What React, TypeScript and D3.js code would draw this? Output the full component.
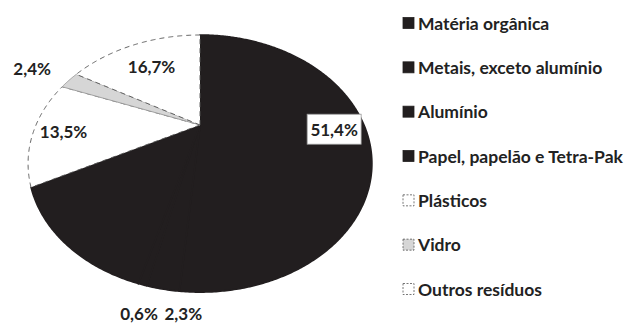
import React from "react";
import * as d3 from "d3";

const categories = [
  "Matéria orgânica",
  "Metais, exceto alumínio",
  "Alumínio",
  "Papel, papelão e Tetra-Pak",
  "Plásticos",
  "Vidro",
  "Outros resíduos",
];
const values = [51.4, 2.3, 0.6, 13.1, 13.5, 2.4, 16.7];
const valueLabels = ["51,4%", "2,3%", "0,6%", "", "13,5%", "2,4%", "16,7%"];

const W = 624;
const H = 323;
const DARK = "#221e1f";
const fills = [DARK, DARK, DARK, DARK, "#ffffff", "#d6d6d6", "#ffffff"];
const strokes = [DARK, DARK, DARK, DARK, "#555", "#999", "#555"];
const dashes = [null, null, null, null, "5,4", null, "5,4"];

// label placement: radius fraction + nudges (layout, not data)
const labelLayout = [
  { rf: 0.81, dx: 0, dy: 0, box: true },
  { rf: 1.1, dx: 26, dy: 0, box: false },
  { rf: 1.1, dx: 5, dy: 5, box: false },
  { rf: 0.7, dx: 0, dy: 0, box: false },
  { rf: 0.84, dx: 3, dy: 1, box: false },
  { rf: 1.33, dx: 0, dy: 1, box: false },
  { rf: 0.68, dx: -1, dy: 0, box: false },
];

// perspective projection of the pie plane
const cx = 200;
const cy = 125;
const A = 164;
const B = 117;
const K = -0.3;
function project(theta: number, r: number): [number, number] {
  const u = r * Math.sin(theta);
  const v = -r * Math.cos(theta);
  const den = 1 + K * v;
  return [cx + (A * u) / den, cy + (B * v) / den];
}

const data = categories.map((c, i) => ({ name: c, value: values[i], i }));
const pie = d3
  .pie<any>()
  .sort(null)
  .value((d: any) => d.value);
const arcs = pie(data);
const lineGen = d3.line<[number, number]>();

function slicePath(a: any): string {
  const step = Math.PI / 360;
  const n = Math.max(2, Math.ceil((a.endAngle - a.startAngle) / step));
  const pts: [number, number][] = [project(0, 0)];
  d3.range(n + 1).forEach((j) => {
    const t = a.startAngle + ((a.endAngle - a.startAngle) * j) / n;
    pts.push(project(t, 1));
  });
  return lineGen(pts) + "Z";
}

const font = "Lato, 'Open Sans', sans-serif";
const legendY = d3.scaleLinear().domain([0, categories.length - 1]).range([23, 289]);

export default function App() {
  return (
    <svg
      width={W}
      height={H}
      style={{ position: "absolute", left: 0, top: 0, background: "#fff" }}
      fontFamily={font}
    >
      <rect width={W} height={H} fill="#fff" />
      {arcs.map((a: any, i: number) => (
        <path
          key={"s" + i}
          d={slicePath(a)}
          fill={fills[i]}
          stroke={strokes[i]}
          strokeWidth={i < 4 ? 1.6 : 0.9}
          strokeLinejoin="round"
          strokeDasharray={dashes[i] || undefined}
        />
      ))}
      {arcs.map((a: any, i: number) => {
        if (!valueLabels[i]) return null;
        const L = labelLayout[i];
        const mid = (a.startAngle + a.endAngle) / 2;
        const [x0, y0] = project(mid, L.rf);
        const x = x0 + L.dx;
        const y = y0 + L.dy;
        return (
          <g key={"l" + i}>
            {L.box && (
              <rect x={x - 27} y={y - 15} width={54} height={30} fill="#fff" stroke="#999" strokeWidth={0.8} />
            )}
            <text
              x={x}
              y={y}
              textAnchor="middle"
              dominantBaseline="central"
              fontSize={17}
              fontWeight={700}
              fill="#222"
            >
              {valueLabels[i]}
            </text>
          </g>
        );
      })}
      {categories.map((c, i) => {
        const y = legendY(i);
        return (
          <g key={"g" + i}>
            <rect
              x={403}
              y={y - 5.5}
              width={11}
              height={11}
              fill={fills[i]}
              stroke={i < 4 ? DARK : "#555"}
              strokeWidth={0.8}
              strokeDasharray={i >= 4 ? "2,1.5" : undefined}
            />
            <text
              x={418}
              y={y}
              dominantBaseline="central"
              fontSize={17.5}
              fontWeight={700}
              fill="#222"
            >
              {c}
            </text>
          </g>
        );
      })}
    </svg>
  );
}
